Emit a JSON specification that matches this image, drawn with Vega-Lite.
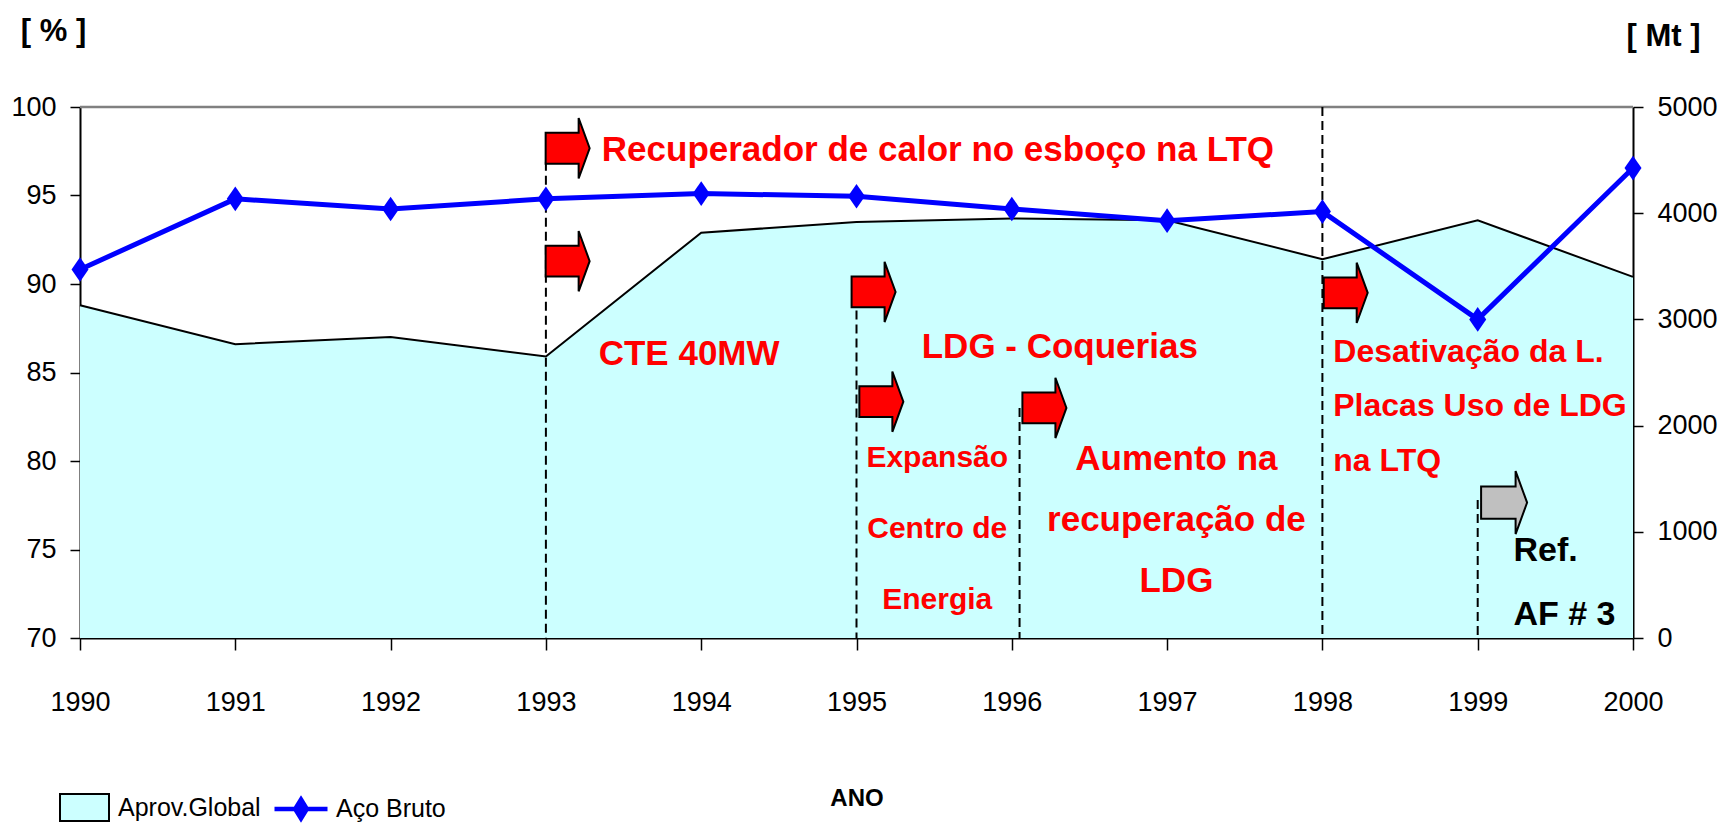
{
  "$schema": "https://vega.github.io/schema/vega-lite/v6.json",
  "width": 1553,
  "height": 531,
  "autosize": {"type": "none"},
  "padding": {"left": 80, "top": 107, "right": 93, "bottom": 191},
  "background": "white",
  "datasets": {
    "series": [
      {"year": 1990, "aprov": 88.8, "aco": 3470},
      {"year": 1991, "aprov": 86.6, "aco": 4135},
      {"year": 1992, "aprov": 87.0, "aco": 4040},
      {"year": 1993, "aprov": 85.9, "aco": 4135},
      {"year": 1994, "aprov": 92.9, "aco": 4185},
      {"year": 1995, "aprov": 93.5, "aco": 4160},
      {"year": 1996, "aprov": 93.7, "aco": 4040},
      {"year": 1997, "aprov": 93.6, "aco": 3930},
      {"year": 1998, "aprov": 91.4, "aco": 4015},
      {"year": 1999, "aprov": 93.6, "aco": 3000},
      {"year": 2000, "aprov": 90.4, "aco": 4425}
    ],
    "vlines": [
      {"year": 1993, "top": 96.9},
      {"year": 1995, "top": 88.5},
      {"year": 1996.05, "top": 83.0},
      {"year": 1998, "top": 100},
      {"year": 1999, "top": 77.8}
    ],
    "redArrows": [
      {"year": 1993.14, "pct": 97.67},
      {"year": 1993.14, "pct": 91.29},
      {"year": 1995.11, "pct": 89.55},
      {"year": 1995.16, "pct": 83.35},
      {"year": 1996.21, "pct": 83.0},
      {"year": 1998.15, "pct": 89.5}
    ],
    "greyArrows": [
      {"year": 1999.17, "pct": 77.65}
    ],
    "bigLabels": [
      {"year": 1993.36, "pct": 97.59, "label": "Recuperador de calor no esboço na LTQ"},
      {"year": 1993.34, "pct": 86.06, "label": "CTE 40MW"},
      {"year": 1995.42, "pct": 86.46, "label": "LDG - Coquerias"}
    ],
    "centerBig": [
      {"year": 1997.06, "pct": 80.13, "label": "Aumento na\nrecuperação de\nLDG"}
    ],
    "centerSmall": [
      {"year": 1995.52, "pct": 80.19, "label": "Expansão\nCentro de\nEnergia"}
    ],
    "leftMed": [
      {"year": 1998.07, "pct": 86.18, "label": "Desativação da L.\nPlacas Uso de LDG\nna LTQ"}
    ],
    "blackLabel": [
      {"year": 1999.23, "pct": 74.93, "label": "Ref.\nAF # 3"}
    ]
  },
  "layer": [
    {
      "layer": [
        {
          "data": {"name": "series"},
          "mark": {"type": "area", "opacity": 1},
          "encoding": {
            "x": {"field": "year", "type": "quantitative", "scale": {"domain": [1990, 2000], "nice": false, "zero": false}, "title": "ANO", "axis": {"values": [1990, 1991, 1992, 1993, 1994, 1995, 1996, 1997, 1998, 1999, 2000], "format": "d"}},
            "y": {"field": "aprov", "type": "quantitative", "scale": {"domain": [70, 100], "nice": false, "zero": false}, "title": "[ % ]", "axis": {"values": [70, 75, 80, 85, 90, 95, 100], "format": "d"}},
            "y2": {"datum": 70},
            "fill": {
              "datum": "Aprov.Global",
              "type": "nominal",
              "scale": {"domain": ["Aprov.Global"], "range": ["#CCFFFF"]},
              "legend": {
                "orient": "none",
                "legendX": -21,
                "legendY": 675,
                "title": null,
                "symbolType": "M-1,-0.55H1V0.55H-1Z",
                "symbolSize": 2401,
                "symbolStrokeColor": "black",
                "symbolStrokeWidth": 2,
                "symbolOpacity": 1,
                "labelFont": "Liberation Sans, Arial, sans-serif",
                "labelFontSize": 25,
                "labelColor": "black",
                "labelOffset": 8,
                "labelLimit": 400
              }
            }
          }
        },
        {
          "data": {"name": "series"},
          "mark": {"type": "line", "color": "black", "strokeWidth": 2},
          "encoding": {
            "x": {"field": "year", "type": "quantitative", "scale": {"domain": [1990, 2000], "nice": false, "zero": false}, "title": "ANO"},
            "y": {"field": "aprov", "type": "quantitative", "scale": {"domain": [70, 100], "nice": false, "zero": false}, "title": "[ % ]"}
          }
        },
        {
          "data": {"values": [{}]},
          "mark": {"type": "rule", "color": "#808080", "strokeWidth": 2.5},
          "encoding": {
            "y": {"datum": 100, "type": "quantitative", "scale": {"domain": [70, 100], "nice": false, "zero": false}, "title": "[ % ]"}
          }
        },
        {
          "data": {"name": "vlines"},
          "mark": {"type": "rule", "color": "black", "strokeWidth": 2, "strokeDash": [9, 5]},
          "encoding": {
            "x": {"field": "year", "type": "quantitative", "scale": {"domain": [1990, 2000], "nice": false, "zero": false}, "title": "ANO"},
            "y": {"field": "top", "type": "quantitative", "scale": {"domain": [70, 100], "nice": false, "zero": false}, "title": "[ % ]"},
            "y2": {"datum": 70}
          }
        },
        {
          "data": {"name": "redArrows"},
          "mark": {"type": "point", "shape": "M-1,-0.7L0.5,-0.7L0.5,-1.37L1,0L0.5,1.37L0.5,0.7L-1,0.7Z", "size": 1936, "filled": true, "fill": "#FF0000", "stroke": "black", "strokeWidth": 2, "opacity": 1},
          "encoding": {
            "x": {"field": "year", "type": "quantitative", "scale": {"domain": [1990, 2000], "nice": false, "zero": false}, "title": "ANO"},
            "y": {"field": "pct", "type": "quantitative", "scale": {"domain": [70, 100], "nice": false, "zero": false}, "title": "[ % ]"}
          }
        },
        {
          "data": {"name": "greyArrows"},
          "mark": {"type": "point", "shape": "M-1,-0.7L0.5,-0.7L0.5,-1.37L1,0L0.5,1.37L0.5,0.7L-1,0.7Z", "size": 2116, "filled": true, "fill": "#C0C0C0", "stroke": "black", "strokeWidth": 2, "opacity": 1},
          "encoding": {
            "x": {"field": "year", "type": "quantitative", "scale": {"domain": [1990, 2000], "nice": false, "zero": false}, "title": "ANO"},
            "y": {"field": "pct", "type": "quantitative", "scale": {"domain": [70, 100], "nice": false, "zero": false}, "title": "[ % ]"}
          }
        },
        {
          "data": {"name": "bigLabels"},
          "mark": {"type": "text", "align": "left", "baseline": "middle", "font": "Liberation Sans, Arial, sans-serif", "fontSize": 35, "fontWeight": "bold", "color": "#FF0000"},
          "encoding": {
            "x": {"field": "year", "type": "quantitative", "scale": {"domain": [1990, 2000], "nice": false, "zero": false}, "title": "ANO"},
            "y": {"field": "pct", "type": "quantitative", "scale": {"domain": [70, 100], "nice": false, "zero": false}, "title": "[ % ]"},
            "text": {"field": "label", "type": "nominal"}
          }
        },
        {
          "data": {"name": "centerBig"},
          "mark": {"type": "text", "align": "center", "baseline": "middle", "lineBreak": "\n", "lineHeight": 61, "font": "Liberation Sans, Arial, sans-serif", "fontSize": 35, "fontWeight": "bold", "color": "#FF0000"},
          "encoding": {
            "x": {"field": "year", "type": "quantitative", "scale": {"domain": [1990, 2000], "nice": false, "zero": false}, "title": "ANO"},
            "y": {"field": "pct", "type": "quantitative", "scale": {"domain": [70, 100], "nice": false, "zero": false}, "title": "[ % ]"},
            "text": {"field": "label", "type": "nominal"}
          }
        },
        {
          "data": {"name": "centerSmall"},
          "mark": {"type": "text", "align": "center", "baseline": "middle", "lineBreak": "\n", "lineHeight": 71, "font": "Liberation Sans, Arial, sans-serif", "fontSize": 30, "fontWeight": "bold", "color": "#FF0000"},
          "encoding": {
            "x": {"field": "year", "type": "quantitative", "scale": {"domain": [1990, 2000], "nice": false, "zero": false}, "title": "ANO"},
            "y": {"field": "pct", "type": "quantitative", "scale": {"domain": [70, 100], "nice": false, "zero": false}, "title": "[ % ]"},
            "text": {"field": "label", "type": "nominal"}
          }
        },
        {
          "data": {"name": "leftMed"},
          "mark": {"type": "text", "align": "left", "baseline": "middle", "lineBreak": "\n", "lineHeight": 54.5, "font": "Liberation Sans, Arial, sans-serif", "fontSize": 32, "fontWeight": "bold", "color": "#FF0000"},
          "encoding": {
            "x": {"field": "year", "type": "quantitative", "scale": {"domain": [1990, 2000], "nice": false, "zero": false}, "title": "ANO"},
            "y": {"field": "pct", "type": "quantitative", "scale": {"domain": [70, 100], "nice": false, "zero": false}, "title": "[ % ]"},
            "text": {"field": "label", "type": "nominal"}
          }
        },
        {
          "data": {"name": "blackLabel"},
          "mark": {"type": "text", "align": "left", "baseline": "middle", "lineBreak": "\n", "lineHeight": 64, "font": "Liberation Sans, Arial, sans-serif", "fontSize": 34, "fontWeight": "bold", "color": "black"},
          "encoding": {
            "x": {"field": "year", "type": "quantitative", "scale": {"domain": [1990, 2000], "nice": false, "zero": false}, "title": "ANO"},
            "y": {"field": "pct", "type": "quantitative", "scale": {"domain": [70, 100], "nice": false, "zero": false}, "title": "[ % ]"},
            "text": {"field": "label", "type": "nominal"}
          }
        }
      ]
    },
    {
      "data": {"name": "series"},
      "layer": [
        {
          "mark": {"type": "line", "strokeWidth": 5},
          "encoding": {
            "x": {"field": "year", "type": "quantitative", "scale": {"domain": [1990, 2000], "nice": false, "zero": false}, "title": "ANO"},
            "y": {"field": "aco", "type": "quantitative", "scale": {"domain": [0, 5000], "nice": false}, "title": "[ Mt ]", "axis": {"orient": "right", "values": [0, 1000, 2000, 3000, 4000, 5000], "format": "d"}},
            "stroke": {
              "datum": "Aço Bruto",
              "type": "nominal",
              "scale": {"domain": ["Aço Bruto"], "range": ["#0000FF"]},
              "legend": {
                "orient": "none",
                "legendX": 192,
                "legendY": 673,
                "title": null,
                "symbolType": "M-1,0H1M0,-0.36L0.22,0L0,0.36L-0.22,0ZM0,-0.22L0.12,0L0,0.22L-0.12,0ZM0,-0.1L0.05,0L0,0.1L-0.05,0Z",
                "symbolSize": 2809,
                "symbolStrokeWidth": 4.5,
                "symbolFillColor": "#0000FF",
                "symbolOpacity": 1,
                "labelFont": "Liberation Sans, Arial, sans-serif",
                "labelFontSize": 25,
                "labelColor": "black",
                "labelOffset": 6,
                "labelLimit": 400
              }
            }
          }
        },
        {
          "mark": {"type": "point", "shape": "M0,-1.45L1,0L0,1.45L-1,0Z", "size": 289, "filled": true, "color": "#0000FF", "opacity": 1},
          "encoding": {
            "x": {"field": "year", "type": "quantitative", "scale": {"domain": [1990, 2000], "nice": false, "zero": false}, "title": "ANO"},
            "y": {"field": "aco", "type": "quantitative", "scale": {"domain": [0, 5000], "nice": false}, "title": "[ Mt ]", "axis": {"orient": "right"}}
          }
        }
      ]
    }
  ],
  "resolve": {"scale": {"y": "independent"}},
  "config": {
    "view": {"stroke": null},
    "font": "Liberation Sans, Arial, sans-serif",
    "axis": {
      "grid": false,
      "domainColor": "black",
      "domainWidth": 2,
      "tickColor": "black",
      "tickWidth": 1.5,
      "labelColor": "black",
      "labelFont": "Liberation Sans, Arial, sans-serif",
      "labelFontSize": 27,
      "titleColor": "black",
      "titleFont": "Liberation Sans, Arial, sans-serif",
      "titleFontWeight": "bold"
    },
    "axisX": {
      "tickSize": 12,
      "labelPadding": 52,
      "labelBaseline": "middle",
      "labelFlush": false,
      "labelOverlap": false,
      "titleFontSize": 24,
      "titleY": 160,
      "titleBaseline": "middle"
    },
    "axisLeft": {
      "tickSize": 10,
      "labelPadding": 14,
      "labelFlush": false,
      "titleAngle": 0,
      "titleX": -27,
      "titleY": -76,
      "titleAlign": "center",
      "titleBaseline": "middle",
      "titleFontSize": 31
    },
    "axisRight": {
      "tickSize": 10,
      "labelPadding": 14,
      "labelFlush": false,
      "titleAngle": 0,
      "titleX": 30,
      "titleY": -71,
      "titleAlign": "center",
      "titleBaseline": "middle",
      "titleFontSize": 31
    }
  }
}
